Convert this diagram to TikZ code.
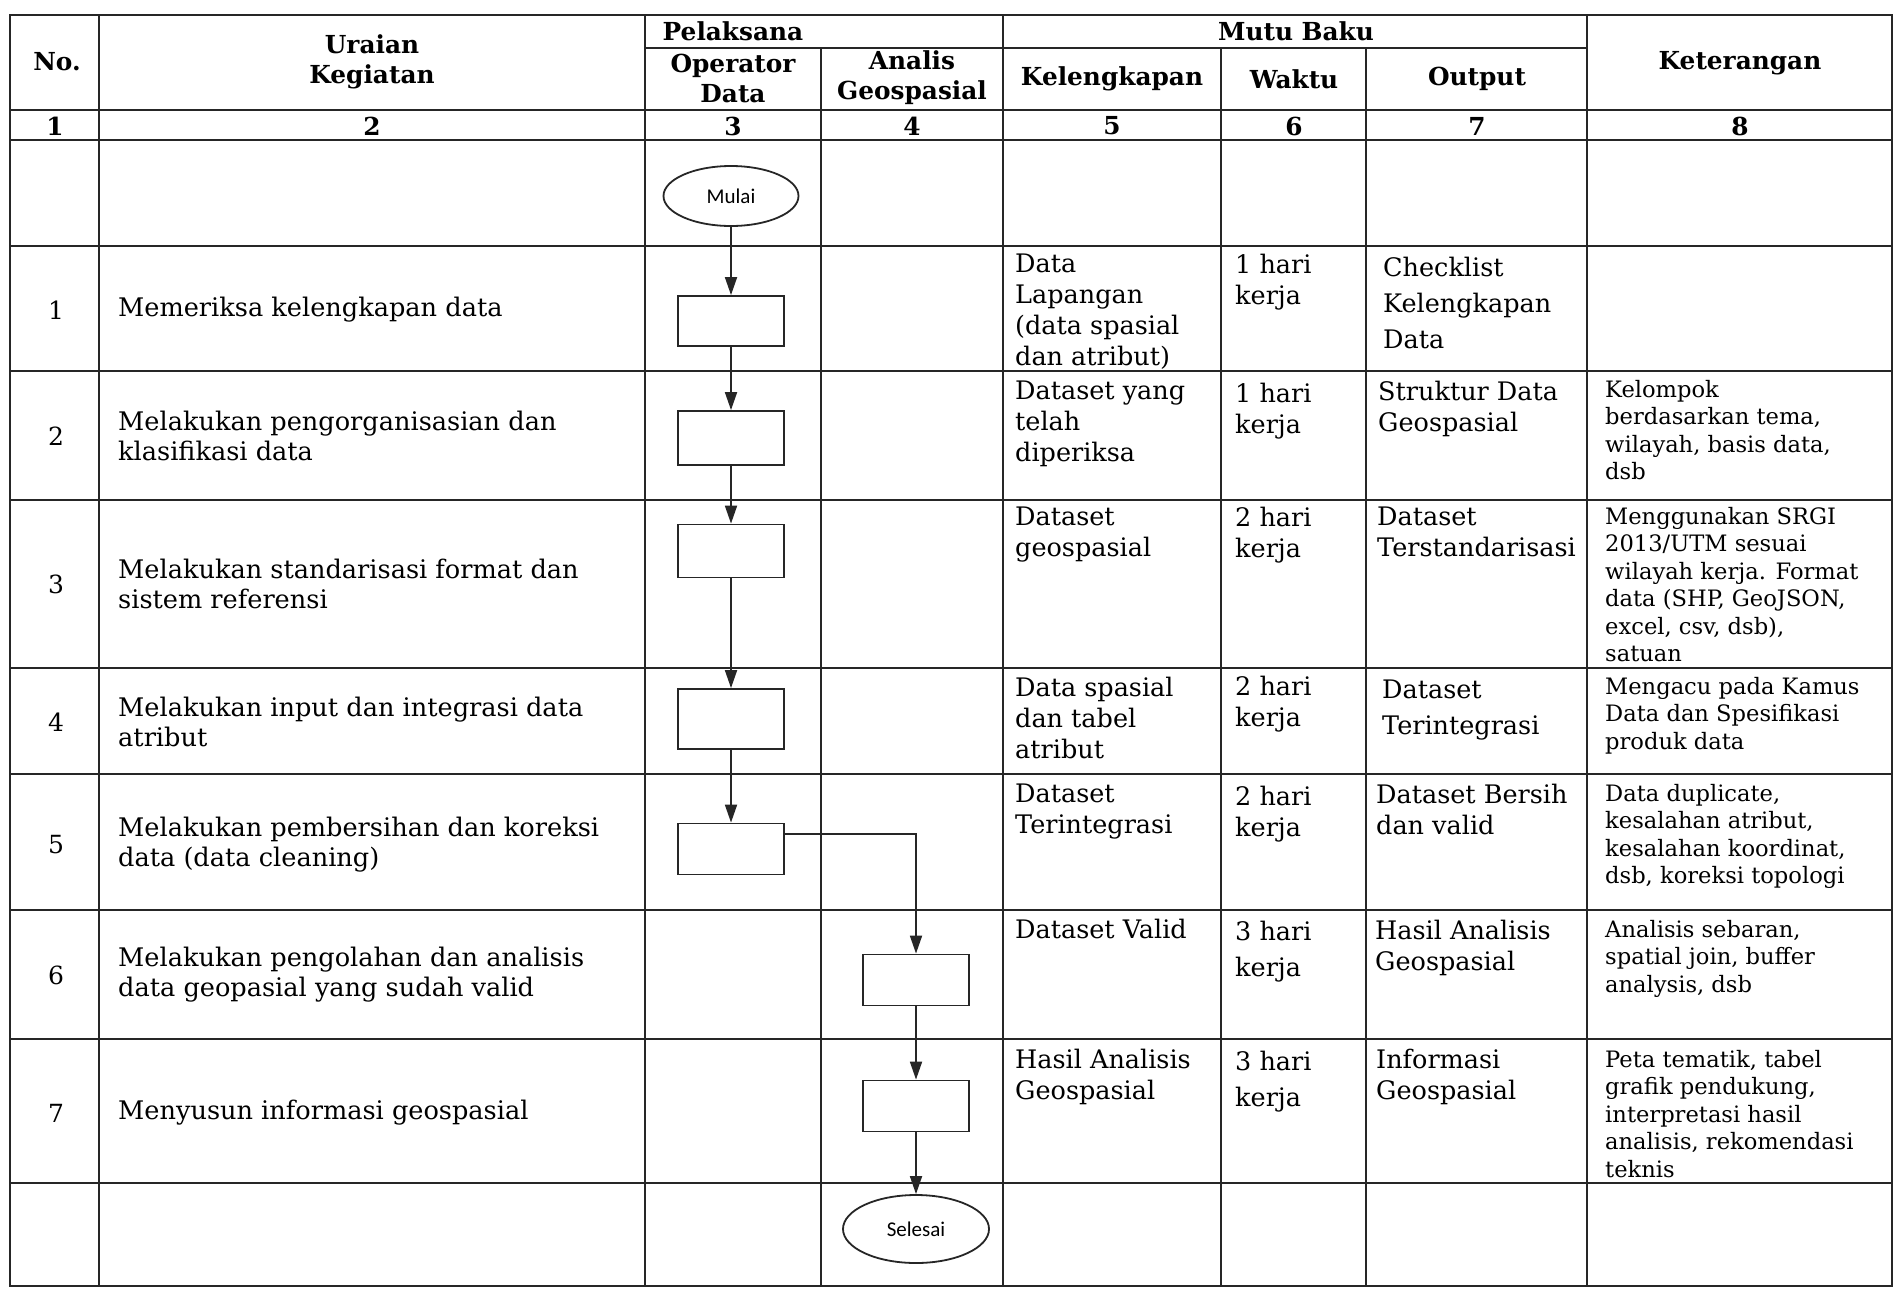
\documentclass[tikz,border=0pt]{standalone}
\usepackage{fontspec}
\setmainfont{DejaVu Serif}
\newfontfamily\calfont{Carlito}
\usetikzlibrary{arrows.meta,shapes.geometric,calc}
\begin{document}
\begin{tikzpicture}[x=1pt,y=-1pt,
  grid/.style={line width=1.5pt, draw=black!85},
  hd/.style={font=\fontsize{24.8}{30}\selectfont\bfseries, align=center, inner sep=0},
  ur/.style={font=\fontsize{25.6}{30}\selectfont, anchor=west, align=left, inner sep=0},
  mb/.style={font=\fontsize{25.5}{31}\selectfont, anchor=north west, align=left, inner sep=0},
  mbw/.style={font=\fontsize{25.5}{36}\selectfont, anchor=north west, align=left, inner sep=0},
  ket/.style={font=\fontsize{22.6}{27.5}\selectfont, anchor=north west, align=left, inner sep=0},
  nm/.style={font=\fontsize{25}{30}\selectfont, inner sep=0},
  proc/.style={draw=black!85, line width=1.8pt, minimum width=106pt, inner sep=0},
  term/.style={ellipse, draw=black!85, line width=1.8pt, inner sep=0, font=\calfont\fontsize{21}{24}\selectfont},
  arr/.style={line width=1.8pt, draw=black!85, -{Triangle[length=18pt,width=12pt]}},
]
\useasboundingbox (0,0) rectangle (1897,1290);
\fill[white] (0,0) rectangle (1897,1290);
% grid
\draw[grid] (10,15) rectangle (1892,1286);
\foreach \y in {110,140,246,371,500,668,774,910,1039,1183} \draw[grid] (10,\y) -- (1892,\y);
\draw[grid] (645,48) -- (1587,48);
\foreach \x in {99,645,1003,1587} \draw[grid] (\x,15) -- (\x,1286);
\foreach \x in {821,1221,1366} \draw[grid] (\x,48) -- (\x,1286);
% headers
\node[hd] (hNo) at (57,62) {No.};
\node[hd] (hUr) at (372,62) {Uraian\\Kegiatan};
\node[hd] (hPel) at (733,31) {Pelaksana};
\node[hd] (hOp) at (733,78) {Operator\\Data};
\node[hd] (hAn) at (912,78) {Analis\\Geospasial};
\node[hd] (hMB) at (1296,31) {Mutu Baku};
\node[hd] (hKel) at (1112,79) {Kelengkapan};
\node[hd] (hWak) at (1294,79) {Waktu};
\node[hd] (hOut) at (1477,79) {Output};
\node[hd] (hKet) at (1740,63) {Keterangan};
\node[hd] (n1) at (55,126) {1};
\node[hd] (n2) at (372,126) {2};
\node[hd] (n3) at (733,126) {3};
\node[hd] (n4) at (912,126) {4};
\node[hd] (n5) at (1112,126) {5};
\node[hd] (n6) at (1294,126) {6};
\node[hd] (n7) at (1477,126) {7};
\node[hd] (n8) at (1740,126) {8};
% numbers and activities
\node[nm] (k1) at (56,310) {1};
\node[nm] (k2) at (56,436) {2};
\node[nm] (k3) at (56,584) {3};
\node[nm] (k4) at (56,722) {4};
\node[nm] (k5) at (56,845) {5};
\node[nm] (k6) at (56,975) {6};
\node[nm] (k7) at (56,1113) {7};
\node[ur] (u1) at (118,310) {Memeriksa kelengkapan data};
\node[ur] (u2) at (118,436) {Melakukan pengorganisasian dan\\klasifikasi data};
\node[ur] (u3) at (118,584) {Melakukan standarisasi format dan\\sistem referensi};
\node[ur] (u4) at (118,722) {Melakukan input dan integrasi data\\atribut};
\node[ur] (u5) at (118,845) {Melakukan pembersihan dan koreksi\\data (data cleaning)};
\node[ur] (u6) at (118,975) {Melakukan pengolahan dan analisis\\data geopasial yang sudah valid};
\node[ur] (u7) at (118,1113) {Menyusun informasi geospasial};
% Kelengkapan
\node[mb] (c51) at (1015,254) {Data\\Lapangan\\(data spasial\\dan atribut)};
\node[mb] (c52) at (1015,381) {Dataset yang\\telah\\diperiksa};
\node[mb] (c53) at (1015,507) {Dataset\\geospasial};
\node[mb] (c54) at (1015,677) {Data spasial\\dan tabel\\atribut};
\node[mb] (c55) at (1015,784) {Dataset\\Terintegrasi};
\node[mb] (c56) at (1015,919) {Dataset Valid};
\node[mb] (c57) at (1015,1049) {Hasil Analisis\\Geospasial};
% Waktu
\node[mb] (c61) at (1235,254) {1 hari\\kerja};
\node[mb] (c62) at (1235,383) {1 hari\\kerja};
\node[mb] (c63) at (1235,507) {2 hari\\kerja};
\node[mb] (c64) at (1235,676) {2 hari\\kerja};
\node[mb] (c65) at (1235,786) {2 hari\\kerja};
\node[mbw] (c66) at (1235,921) {3 hari\\kerja};
\node[mbw] (c67) at (1235,1051) {3 hari\\kerja};
% Output
\node[mbw] (c71) at (1383,257) {Checklist\\Kelengkapan\\Data};
\node[mb] (c72) at (1378,381) {Struktur Data\\Geospasial};
\node[mb] (c73) at (1377,507) {Dataset\\Terstandarisasi};
\node[mbw] (c74) at (1382,680) {Dataset\\Terintegrasi};
\node[mb] (c75) at (1376,784) {Dataset Bersih\\dan valid};
\node[mb] (c76) at (1375,920) {Hasil Analisis\\Geospasial};
\node[mb] (c77) at (1376,1049) {Informasi\\Geospasial};
% Keterangan
\node[ket] (c82) at (1605,380) {Kelompok\\berdasarkan tema,\\wilayah, basis data,\\dsb};
\node[ket] (c83) at (1605,507) {Menggunakan SRGI\\2013/UTM sesuai\\wilayah kerja. Format\\data (SHP, GeoJSON,\\excel, csv, dsb),\\satuan};
\node[ket] (c84) at (1605,677) {Mengacu pada Kamus\\Data dan Spesifikasi\\produk data};
\node[ket] (c85) at (1605,784) {Data duplicate,\\kesalahan atribut,\\kesalahan koordinat,\\dsb, koreksi topologi};
\node[ket] (c86) at (1605,920) {Analisis sebaran,\\spatial join, buffer\\analysis, dsb};
\node[ket] (c87) at (1605,1050) {Peta tematik, tabel\\grafik pendukung,\\interpretasi hasil\\analisis, rekomendasi\\teknis};
% flowchart
\node[term, minimum width=135pt, minimum height=60pt] (mulai) at (731,196) {Mulai};
\node[proc, minimum height=50pt] (b1) at (731,321) {};
\node[proc, minimum height=54pt] (b2) at (731,438) {};
\node[proc, minimum height=53pt] (b3) at (731,551) {};
\node[proc, minimum height=60pt] (b4) at (731,719) {};
\node[proc, minimum height=51pt] (b5) at (731,849) {};
\node[proc, minimum height=51pt] (b6) at (916,980) {};
\node[proc, minimum height=51pt] (b7) at (916,1106) {};
\node[term, minimum width=146pt, minimum height=68pt] (selesai) at (916,1229) {Selesai};
\draw[arr] (mulai) -- (b1);
\draw[arr] (b1) -- (b2);
\draw[arr] (b2) -- (b3);
\draw[arr] (b3) -- (b4);
\draw[arr] (b4) -- (b5);
\draw[arr] ($(b5.east)+(0,-15)$) -| (b6.north);
\draw[arr] (b6) -- (b7);
\draw[arr] (b7) -- (selesai);
\end{tikzpicture}
\end{document}
